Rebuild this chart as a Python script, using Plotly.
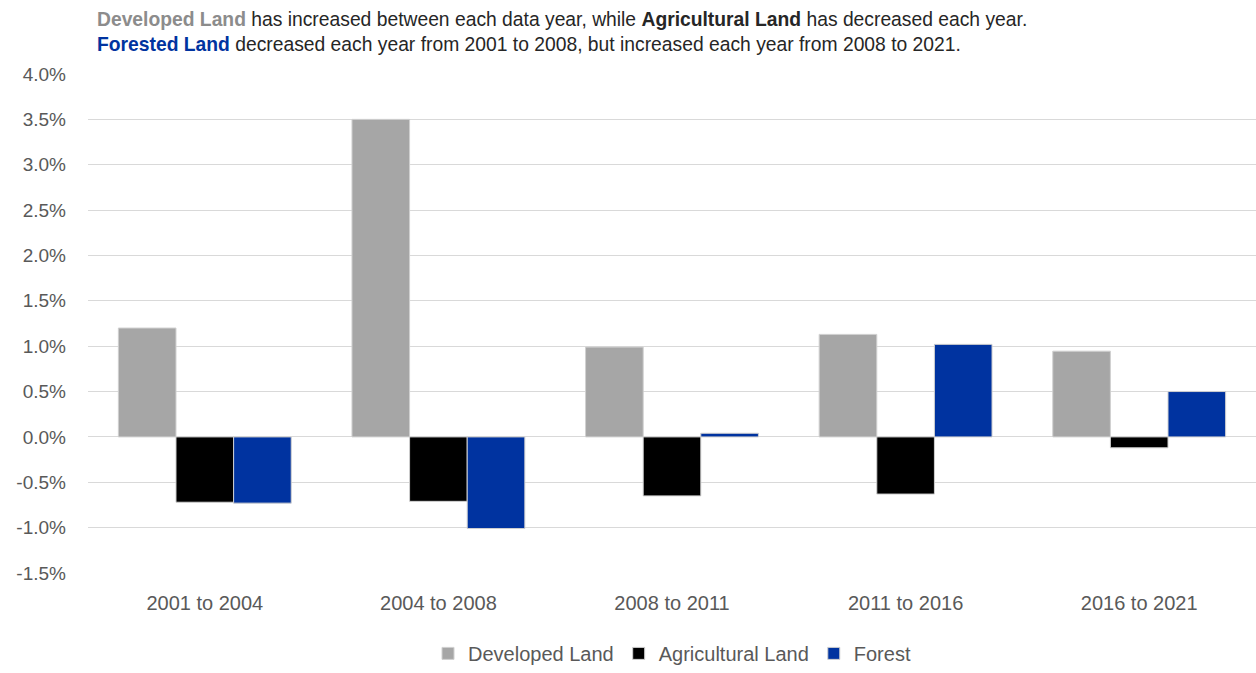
import plotly.graph_objects as go

categories = ["2001 to 2004", "2004 to 2008", "2008 to 2011", "2011 to 2016", "2016 to 2021"]
developed = [1.20, 3.50, 0.99, 1.13, 0.945]
agricultural = [-0.72, -0.71, -0.65, -0.63, -0.12]
forest = [-0.73, -1.01, 0.04, 1.02, 0.50]
tick_vals = [-1.5, -1.0, -0.5, 0.0, 0.5, 1.0, 1.5, 2.0, 2.5, 3.0, 3.5, 4.0]
tick_text = [f"{v:.1f}%" for v in tick_vals]

FONT = "Liberation Sans Narrow, Arial Narrow, Liberation Sans, Arial, sans-serif"

fig = go.Figure()
for name, vals, color in [("Developed Land", developed, "#a6a6a6"),
                          ("Agricultural Land", agricultural, "#000000"),
                          ("Forest", forest, "#0033a0")]:
    fig.add_trace(go.Bar(x=categories, y=vals, name=name,
                         marker=dict(color=color, line=dict(color="#d0d0d0", width=1))))

fig.update_layout(
    width=1256, height=673,
    margin=dict(l=88, r=0, t=74, b=100),
    paper_bgcolor="white", plot_bgcolor="white",
    barmode="group", bargap=0.26, bargroupgap=0,
    font=dict(family=FONT, size=18, color="#595959"),
    xaxis=dict(showgrid=False, showline=False, ticks="", tickfont=dict(size=20, color="#595959"),
               ticklabelstandoff=16, automargin=False),
    yaxis=dict(range=[-1.5, 4.0], tickvals=tick_vals, ticktext=tick_text,
               showgrid=True, gridcolor="#d9d9d9", gridwidth=1, zeroline=True,
               zerolinecolor="#d9d9d9", zerolinewidth=1, automargin=False,
               tickfont=dict(size=19, color="#595959"), ticklabelstandoff=21),
    legend=dict(orientation="h", x=0.5, xanchor="center", y=-0.122, yanchor="top",
                font=dict(size=20, color="#595959"), itemwidth=30, traceorder="normal"),
    showlegend=True,
)

fig.add_annotation(
    xref="paper", yref="paper", x=(95 - 88) / 1168, y=1 + (74 - 7) / 499,
    xanchor="left", yanchor="top", align="left", showarrow=False,
    font=dict(family=FONT, size=19.3, color="#262626"),
    text=("<b><span style='color:#8c8c8c'>Developed Land</span></b> has increased between each data year, while "
          "<b>Agricultural Land</b> has decreased each year.<br>"
          "<b><span style='color:#0033a0'>Forested Land</span></b> decreased each year from 2001 to 2008, "
          "but increased each year from 2008 to 2021."),
)

fig.write_html("out.html")
